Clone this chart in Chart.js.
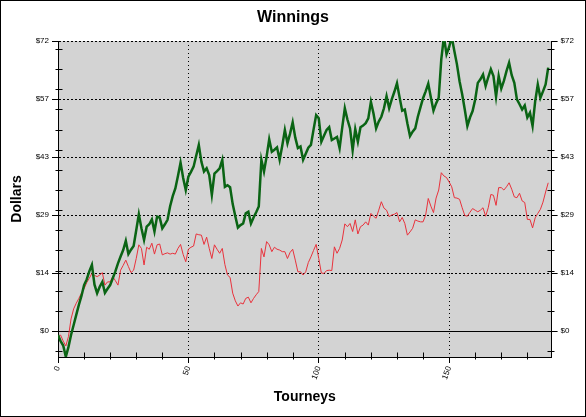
<!DOCTYPE html>
<html>
<head>
<meta charset="utf-8">
<script src="https://cdn.jsdelivr.net/npm/chart.js@4.4.1/dist/chart.umd.min.js"></script>
<style>
html,body{margin:0;padding:0;background:#fff;}
canvas{display:block;}
</style>
</head>
<body>
<canvas id="c" width="586" height="417"></canvas>
<script>
const greenWinnings = [
-1,-2.5,-3.6,-6.4,-4,-1,1.5,4,6.5,8.7,
11.4,12.8,14.8,16.4,11.5,9.4,11,12.2,9.5,10.5,
11.4,13.1,14.8,16.8,18.5,20.1,22.4,19.1,20.2,21.1,
25,29,25.5,22.6,25.9,26.5,27.7,24.7,28.4,28.2,
25.5,26.5,27.6,31,33.5,35.4,38.5,41.8,38,35,
38.3,39.5,40.8,43.5,46.2,42,39.6,40.4,38.7,33.8,
39.1,39.7,40.4,42.5,35.8,36.2,35.7,31.5,28.5,25.7,
26.3,26.7,29.2,29.6,26.7,28.2,29.5,30.9,42.5,39.6,
43.3,47.6,44.5,45,45.6,42.5,46,49.9,46.6,49,
51.8,48,45.4,45.8,42.5,44,45.5,46.2,50,53.6,
52.8,47,48.5,49.9,50.6,47.4,47.8,48.2,45.4,50.5,
55.3,52.5,50.3,44.9,50.1,47,50.6,51,51.6,52.8,
56.9,54,50.3,52,53.2,55.3,58.3,55.3,57.5,59.4,
61.5,58,54.7,55,51.5,48.4,49.5,50.3,53.2,55.5,
57.8,59.5,61.4,58,54.7,56.5,57.9,67.5,73,68.7,
70.5,73,69.5,66.2,62,58.8,55,50.9,53,54.6,
57.5,61.6,62.5,63.7,60.8,63,65,63.3,58.2,63.3,
60.2,62.1,64.5,66.6,63.5,61.6,57.5,56.3,55,56,
53,54.2,50.9,57,61.2,57.9,59.5,61.2,65.4
];
const redWinnings = [
-1.5,-1,-2.5,-3.7,-1.4,3,5.5,6.9,8.1,9.4,
10.5,12,13.1,14.3,13.8,13.5,13.9,14.5,11.4,12.2,
12.2,13.5,12.5,11.4,15.1,16.3,17.6,16,14.5,15.1,
18,21.4,20.5,16.4,20.8,20.3,21.8,19.1,21.4,21.6,
18.9,19.2,19.4,19.1,19.3,19.1,20.5,21.5,19,17.2,
20.3,20.8,21.1,24.1,23.9,23.8,21.5,23.3,20.5,18,
21.4,20.3,19.3,20.5,16.5,13.9,13.3,9.4,7.5,6.2,
7,6.7,8.1,8.4,7,8.1,9,9.8,20.5,18.4,
22.2,21.4,19.7,20.8,20.3,20.1,19.7,19.7,18,19.5,
20.3,17.6,14.7,14.7,13.9,14.7,17,18.4,20,21.5,
18,14.4,14.3,15,15.1,15,20.9,19.3,20.5,22.6,
26.6,25.9,26.7,24.7,27.6,24.1,25.9,26.3,27.1,26.3,
29.2,28.5,28,30,32.1,30.5,30,28.4,28.8,29,
29.4,27.1,28.2,26.7,23.8,24.6,25.5,27.6,27.3,27.1,
27.1,28.8,32.9,31,29.4,33,35,39.3,38.5,38.1,
37,35.8,33.1,33,32.7,30.6,28.7,28.5,29.5,30.4,
30,29.6,30,30.6,28.5,30.6,33.9,33.7,31.2,35.6,
35.6,35,35.8,36.8,35.2,33.3,33.1,34.2,32.3,31.9,
27.7,27.7,25.6,28.1,29.2,30.2,32,34.5,36.8
];
const xMajorTicks = [0, 50, 100, 150];
const xMinorTicks = [10,20,30,40,60,70,80,90,110,120,130,140,160,170,180];
const yMajorTicks = [0, 14.4, 28.8, 43.2, 57.6, 72];
const yTickLabels = ['$0', '$14', '$29', '$43', '$57', '$72'];
const yMinorTicks = [-5,5,10,15,20,25,30,35,40,45,50,55,60,65,70];
const xMin = 0, xMax = 189.3, yMin = -6.45, yMax = 72;

const tickFont = {family: 'Liberation Sans', size: 8};
const gridColor = (ctx) => (ctx.tick && ctx.tick.value === 0) ? 'rgba(0,0,0,0)' : '#000';
const yLabel = (v) => { const k = yMajorTicks.indexOf(v); return k >= 0 ? yTickLabels[k] : ''; };

const decor = {
  id: 'decor',
  beforeDraw(chart) {
    const {ctx, chartArea: a} = chart;
    ctx.save();
    ctx.fillStyle = '#fff';
    ctx.fillRect(0, 0, chart.width, chart.height);
    ctx.fillStyle = '#d3d3d3';
    ctx.fillRect(a.left, a.top, a.right - a.left, a.bottom - a.top);
    ctx.restore();
  },
  beforeDatasetsDraw(chart) {
    const {ctx, chartArea: a, scales} = chart;
    const y0 = Math.round(scales.y.getPixelForValue(0)) + 0.5;
    ctx.save();
    ctx.strokeStyle = '#000';
    ctx.lineWidth = 1;
    ctx.beginPath();
    ctx.moveTo(a.left, y0);
    ctx.lineTo(a.right, y0);
    ctx.stroke();
    ctx.restore();
  },
  afterDraw(chart) {
    const {ctx, chartArea: a, scales} = chart;
    ctx.save();
    ctx.strokeStyle = '#000';
    ctx.lineWidth = 1;
    ctx.beginPath();
    const L = Math.round(a.left) + 0.5, R = Math.round(a.right) - 0.5, B = Math.round(a.bottom) - 0.5;
    yMinorTicks.forEach(v => {
      const y = Math.round(scales.y.getPixelForValue(v)) + 0.5;
      ctx.moveTo(L - 3, y); ctx.lineTo(L + 4, y);
      ctx.moveTo(R - 4, y); ctx.lineTo(R + 3, y);
    });
    xMinorTicks.forEach(v => {
      const x = Math.round(scales.x.getPixelForValue(v)) + 0.5;
      ctx.moveTo(x, B - 4); ctx.lineTo(x, B + 3);
    });
    ctx.stroke();
    ctx.strokeRect(0.5, 0.5, chart.width - 1, chart.height - 1);
    ctx.restore();
  }
};

new Chart(document.getElementById('c'), {
  type: 'line',
  plugins: [decor],
  data: {
    datasets: [
      {
        label: 'Green',
        data: greenWinnings.map((v, i) => ({x: i, y: v})),
        borderColor: '#0a6414',
        borderWidth: 2.5,
        pointRadius: 0,
        tension: 0,
        fill: false,
        clip: 0
      },
      {
        label: 'Red',
        data: redWinnings.map((v, i) => ({x: i, y: v})),
        borderColor: '#e8323c',
        borderWidth: 1,
        pointRadius: 0,
        tension: 0,
        fill: false,
        clip: 0
      }
    ]
  },
  options: {
    responsive: false,
    animation: false,
    devicePixelRatio: 1,
    layout: {padding: 0},
    plugins: {
      legend: {display: false},
      tooltip: {enabled: false},
      title: {
        display: true,
        text: 'Winnings',
        color: '#000',
        font: {family: 'Liberation Sans', size: 16, weight: 'bold'},
        padding: {top: 8.4, bottom: 13.4}
      }
    },
    scales: {
      x: {
        type: 'linear',
        min: xMin, max: xMax,
        afterBuildTicks: s => { s.ticks = xMajorTicks.map(v => ({value: v})); },
        afterFit: s => { s.height = 60; },
        ticks: {autoSkip: false, minRotation: 70, maxRotation: 70, font: tickFont, color: '#000', padding: 2, callback: v => String(v)},
        grid: {color: gridColor, lineWidth: 1, tickColor: '#000', tickLength: 6, tickWidth: 1},
        border: {display: true, color: '#000', width: 1, dash: [1, 3]},
        title: {display: true, text: 'Tourneys', color: '#000', font: {family: 'Liberation Sans', size: 14, weight: 'bold'}, padding: {top: 0, bottom: 11.6}}
      },
      y: {
        type: 'linear',
        position: 'left',
        min: yMin, max: yMax,
        afterBuildTicks: s => { s.ticks = yMajorTicks.map(v => ({value: v})); },
        afterFit: s => { s.width = 58; },
        ticks: {autoSkip: false, font: tickFont, color: '#000', padding: 3, callback: yLabel},
        grid: {color: gridColor, lineWidth: 1, tickColor: '#000', tickLength: 6, tickWidth: 1},
        border: {display: true, color: '#000', width: 1, dash: [2, 2]},
        title: {display: true, text: 'Dollars', color: '#000', font: {family: 'Liberation Sans', size: 14, weight: 'bold'}, padding: {top: 8.6, bottom: 0}}
      },
      y2: {
        type: 'linear',
        position: 'right',
        min: yMin, max: yMax,
        afterBuildTicks: s => { s.ticks = yMajorTicks.map(v => ({value: v})); },
        afterFit: s => { s.width = 34.4; },
        ticks: {autoSkip: false, font: tickFont, color: '#000', padding: 3, callback: yLabel},
        grid: {drawOnChartArea: false, color: '#000', tickColor: '#000', tickLength: 6, tickWidth: 1},
        border: {display: true, color: '#000', width: 1}
      }
    }
  }
});
</script>
</body>
</html>
